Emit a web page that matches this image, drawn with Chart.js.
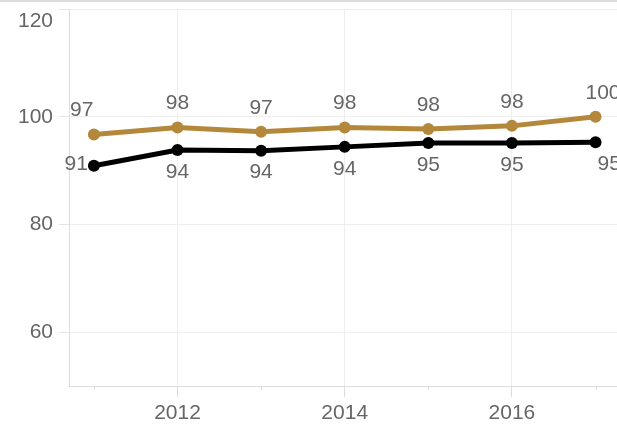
<!DOCTYPE html>
<html>
<head>
<meta charset="utf-8">
<script src="https://cdn.jsdelivr.net/npm/chart.js@4.4.0/dist/chart.umd.min.js"></script>
<style>
    html, body { margin: 0; padding: 0; background: #fff; }
    #wrap { position: relative; width: 617px; height: 426px; }
    #topBand { position: absolute; left: 0; top: 0; width: 617px; height: 2px; background: #dcdcdc; }
</style>
</head>
<body>
<div id="wrap">
    <canvas id="chart"></canvas>
    <div id="topBand"></div>
</div>
<script>
// Data
const years = [2011, 2012, 2013, 2014, 2015, 2016, 2017];
const goldValues = [96.7, 98.0, 97.2, 98.0, 97.7, 98.3, 100.0];
const blackValues = [90.9, 93.8, 93.7, 94.4, 95.1, 95.1, 95.25];
const yTicks = [60, 80, 100, 120];

const GOLD = '#b4883a';
const LABEL_GRAY = '#666666';
const FONT = 'Arial, "Liberation Sans", sans-serif';

// Value labels next to each point
const valueLabels = {
    id: 'valueLabels',
    afterDatasetsDraw(chart) {
        const { ctx, chartArea } = chart;
        ctx.save();
        ctx.font = '21px ' + FONT;
        ctx.fillStyle = LABEL_GRAY;
        ctx.textBaseline = 'middle';
        chart.data.datasets.forEach((ds, di) => {
            const meta = chart.getDatasetMeta(di);
            const last = meta.data.length - 1;
            meta.data.forEach((pt, i) => {
                const above = di === 0;
                let x = pt.x;
                let y = pt.y + (above ? -24 : 22);
                let align = 'center';
                if (i === 0) {
                    if (above) { x = chartArea.left + 1; align = 'left'; }
                    else { x = pt.x - 6; y = pt.y - 2; align = 'right'; }
                }
                if (i === last) {
                    align = 'left';
                    x = above ? pt.x - 10 : pt.x + 2;
                }
                ctx.textAlign = align;
                ctx.fillText(String(Math.round(ds.data[i])), x, y);
            });
        });
        ctx.restore();
    }
};

// Short ticks for odd years
const minorTicks = {
    id: 'minorTicks',
    afterDraw(chart) {
        const { ctx } = chart;
        const xs = chart.scales.x;
        ctx.save();
        ctx.strokeStyle = '#dddddd';
        ctx.lineWidth = 1;
        years.filter(v => v % 2 === 1).forEach(v => {
            const px = Math.round(xs.getPixelForValue(v)) + 0.5;
            ctx.beginPath();
            ctx.moveTo(px, xs.top);
            ctx.lineTo(px, xs.top + 4);
            ctx.stroke();
        });
        ctx.restore();
    }
};

// no extra room for overhanging tick labels
function noPadding(s) {
    s.paddingTop = 0;
    s.paddingBottom = 0;
    s.paddingLeft = 0;
    s.paddingRight = 0;
}

new Chart(document.getElementById('chart'), {
    type: 'line',
    data: {
        labels: years,
        datasets: [{
            data: goldValues,
            borderColor: GOLD,
            backgroundColor: GOLD,
            borderWidth: 5,
            pointRadius: 6,
            pointBorderWidth: 0,
            tension: 0
        }, {
            data: blackValues,
            borderColor: '#000000',
            backgroundColor: '#000000',
            borderWidth: 5,
            pointRadius: 6,
            pointBorderWidth: 0,
            tension: 0
        }]
    },
    options: {
        responsive: true,
        maintainAspectRatio: false,
        animation: false,
        clip: false,
        layout: { autoPadding: false, padding: { top: 9, left: 0, right: 0, bottom: 0 } },
        scales: {
            x: {
                type: 'linear',
                min: 2010.702,
                max: 2017.257,
                afterBuildTicks: s => { s.ticks = years.map(v => ({ value: v })); },
                afterFit: s => { s.height = 40; noPadding(s); },
                grid: {
                    color: c => (c.tick && c.tick.value % 2 === 0) ? '#eeeeee' : 'rgba(0,0,0,0)',
                    tickColor: c => (c.tick && c.tick.value % 2 === 0) ? '#dddddd' : 'rgba(0,0,0,0)',
                    tickLength: 11
                },
                border: { color: '#dddddd' },
                ticks: {
                    autoSkip: false,
                    maxRotation: 0,
                    padding: 4,
                    color: LABEL_GRAY,
                    font: { family: FONT, size: 21 },
                    callback: v => (v % 2 === 0 ? String(v) : '')
                }
            },
            y: {
                min: 50,
                max: 120,
                afterBuildTicks: s => { s.ticks = yTicks.map(v => ({ value: v })); },
                afterFit: s => { s.width = 69; noPadding(s); },
                grid: {
                    color: '#eeeeee',
                    tickColor: '#e6e6e6',
                    tickLength: 10
                },
                border: { color: '#dddddd' },
                ticks: {
                    padding: 6,
                    color: LABEL_GRAY,
                    font: { family: FONT, size: 21 },
                    callback: v => (v === 120 ? ['', '120'] : String(v))
                }
            }
        },
        plugins: {
            legend: { display: false },
            tooltip: { enabled: false }
        }
    },
    plugins: [valueLabels, minorTicks]
});
</script>
</body>
</html>
